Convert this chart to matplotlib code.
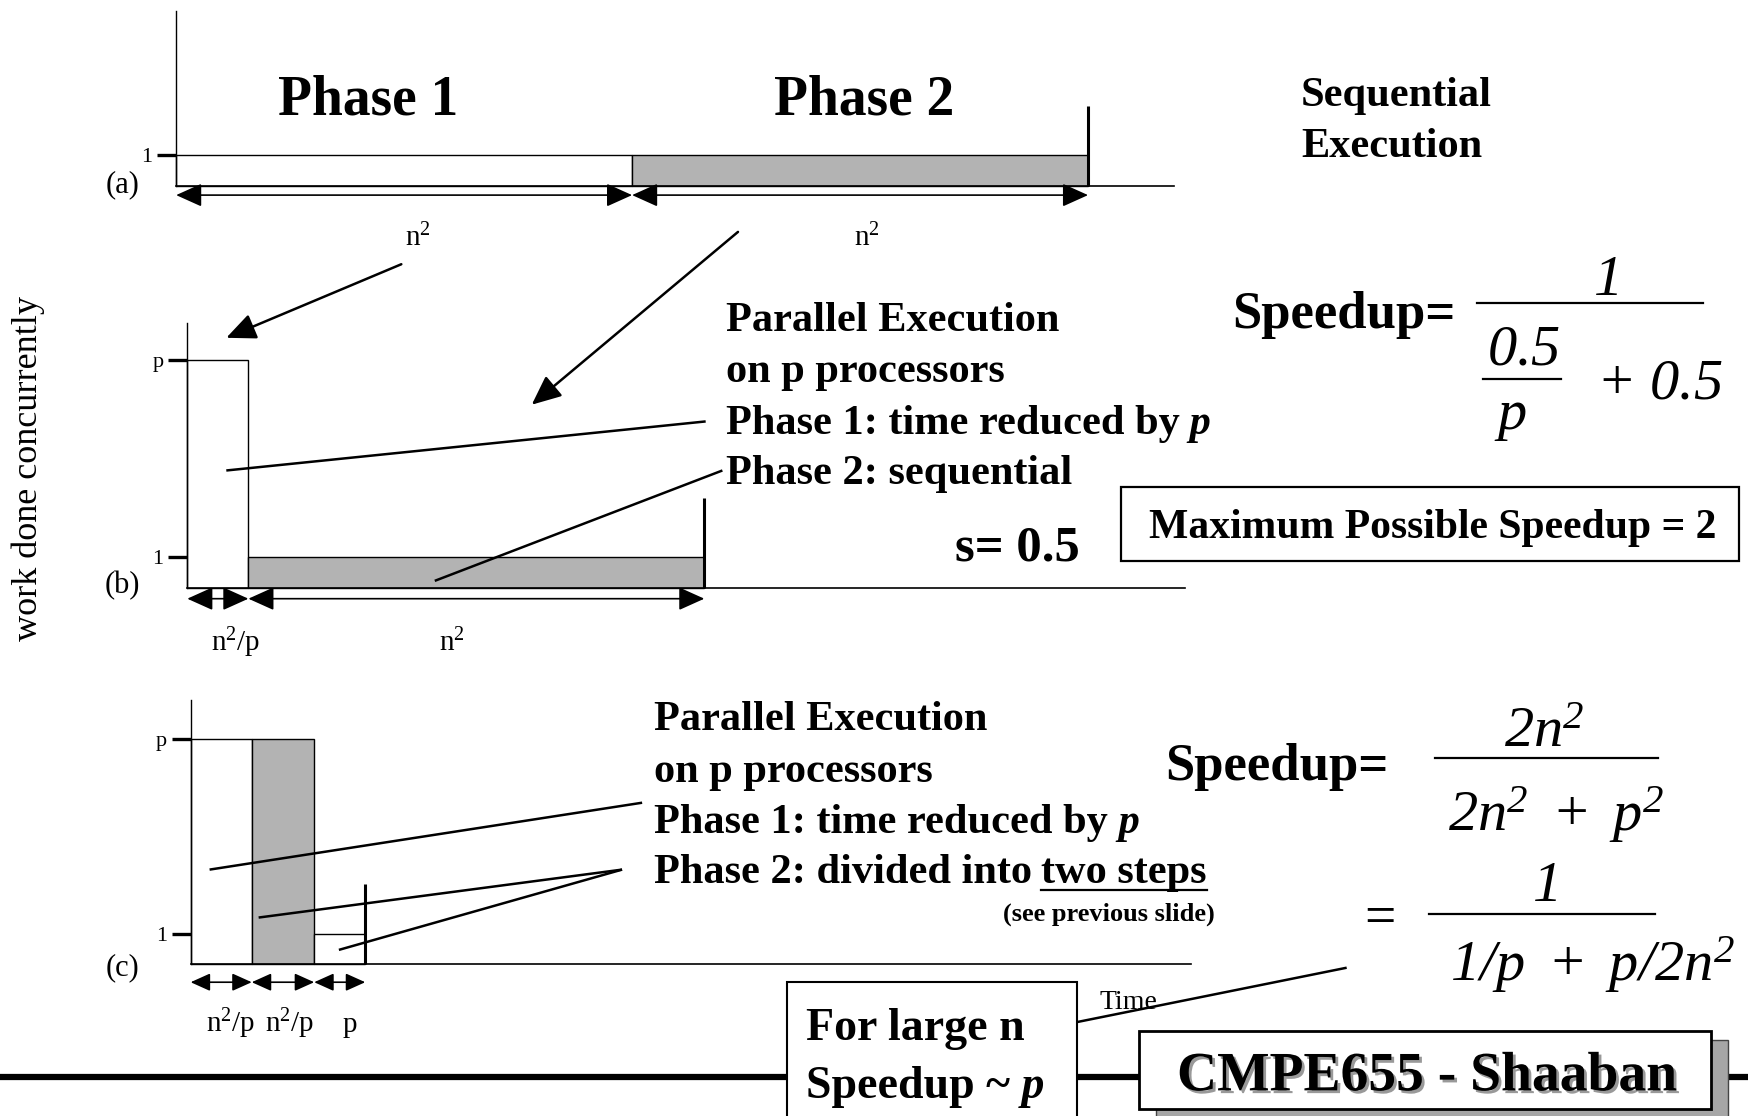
import numpy as np
import matplotlib
matplotlib.use("Agg")
import matplotlib.pyplot as plt
from matplotlib.patches import Rectangle, FancyArrowPatch
import matplotlib.patheffects as pe

# ---------------- data ----------------
P_LEVEL = 7.5                      # drawn height of "p" processors
a_widths = [1.0, 1.0]              # time in units of n^2
a_heights = [1, 1]
a_colors = ["white", "#b3b3b3"]
a_span_labels = [r"n$^2$", r"n$^2$"]

b_widths = [0.134, 1.0]            # n^2/p , n^2
b_heights = [P_LEVEL, 1]
b_colors = ["white", "#b3b3b3"]
b_span_labels = [r"n$^2$/p", r"n$^2$"]

c_widths = [0.134, 0.137, 0.112]   # n^2/p , n^2/p , p
c_heights = [P_LEVEL, P_LEVEL, 1]
c_colors = ["white", "#b3b3b3", "white"]
c_span_labels = [r"n$^2$/p", r"n$^2$/p", "p"]

tick_vals_a = [1]
tick_labels_a = ["1"]
tick_vals_bc = [1, P_LEVEL]
tick_labels_bc = ["1", "p"]

# ---------------- figure ----------------
W, H = 1568, 1001          # canvas coordinate system
PX_PER_N2 = 409.0          # canvas units per n^2 of time
SERIF = ["Liberation Serif", "DejaVu Serif"]
plt.rcParams["font.family"] = SERIF
plt.rcParams["mathtext.fontset"] = "custom"
plt.rcParams["mathtext.rm"] = "Liberation Serif"
plt.rcParams["mathtext.it"] = "Liberation Serif:italic"
plt.rcParams["mathtext.bf"] = "Liberation Serif:bold"
plt.rcParams["mathtext.sf"] = "Liberation Serif:italic"   # fully italic formulas (digits too)

fig = plt.figure(figsize=(17.48, 11.16), dpi=100)
fig.patch.set_facecolor("white")

cv = fig.add_axes([0, 0, 1, 1], zorder=10)
cv.set_xlim(0, W)
cv.set_ylim(H, 0)
cv.axis("off")


def panel(x0, x1, ytop, ybase, unit_px, widths, heights, colors, end_h,
          tvals, tlabels, arrow_y, label_y):
    ax = fig.add_axes([x0 / W, 1 - ybase / H, (x1 - x0) / W, (ybase - ytop) / H], zorder=1)
    ax.set_facecolor("none")
    ax.set_xlim(0, (x1 - x0) / PX_PER_N2)
    ax.set_ylim(0, (ybase - ytop) / unit_px)
    for s in ("top", "right"):
        ax.spines[s].set_visible(False)
    ax.spines["left"].set_linewidth(1.0)
    ax.spines["bottom"].set_linewidth(1.2)
    ax.set_xticks([])
    ax.set_yticks(tvals)
    ax.set_yticklabels(tlabels)
    ax.tick_params(axis="y", direction="out", length=14, width=2.4, labelsize=16, pad=3)
    lefts = np.concatenate([[0], np.cumsum(widths)[:-1]])
    ax.bar(lefts, heights, width=widths, align="edge", color=colors,
           edgecolor="black", linewidth=1.0, clip_on=False)
    end = float(np.sum(widths))
    ax.vlines(end, 0, end_h, colors="black", linewidth=2.2, clip_on=False)
    ya = -(arrow_y - ybase) / unit_px
    yl = -(label_y - ybase) / unit_px
    return ax, lefts, ya, yl


def spans(ax, lefts, widths, ya, yl, labels, ms, label_dx):
    for l, w, lab, dx in zip(lefts, widths, labels, label_dx):
        arr = FancyArrowPatch((l, ya), (l + w, ya),
                              arrowstyle="<|-|>,head_length=0.8,head_width=0.36",
                              mutation_scale=ms, shrinkA=0, shrinkB=0,
                              color="black", linewidth=1.2, clip_on=False)
        ax.add_patch(arr)
        ax.text(l + w / 2 + dx / PX_PER_N2, yl, lab, ha="center", va="baseline",
                fontsize=21, clip_on=False)


# panel (a)
ua = 28.0
axa, la, yaa, yla = panel(158, 1053, 10, 167, ua, a_widths, a_heights, a_colors,
                          (167 - 95) / ua, tick_vals_a, tick_labels_a, 175, 221)
spans(axa, la, a_widths, yaa, yla, a_span_labels, 20, [12, 6])

# panel (b)
ub = 27.2
axb, lb, yab, ylb = panel(168, 1063, 290, 527, ub, b_widths, b_heights, b_colors,
                          (527 - 447) / ub, tick_vals_bc, tick_labels_bc, 537, 584)
spans(axb, lb, b_widths, yab, ylb, b_span_labels, 20, [16, -22])

# panel (c)
uc = 27.0
axc, lc, yac, ylc = panel(171, 1068, 628, 865, uc, c_widths, c_heights, c_colors,
                          (865 - 793) / uc, tick_vals_bc, tick_labels_bc, 881, 926)
spans(axc, lc, c_widths, yac, ylc, c_span_labels, 15, [8, 6, 9])


# ---------------- texts ----------------
def T(x, y, s, size, weight="normal", style="normal", ha="left", va="baseline", **kw):
    return cv.text(x, y, s, fontsize=size, fontweight=weight, fontstyle=style,
                   ha=ha, va=va, family=SERIF, **kw)


renderer = fig.canvas.get_renderer()


def right_edge(t):
    bb = t.get_window_extent(renderer)
    return cv.transData.inverted().transform((bb.x1, bb.y0))[0]


def left_edge(t):
    bb = t.get_window_extent(renderer)
    return cv.transData.inverted().transform((bb.x0, bb.y0))[0]


BODY = 30.5
FML = 42

T(330, 103, "Phase 1", 40, "bold", ha="center")
T(775, 103, "Phase 2", 40, "bold", ha="center")
T(1167, 95, "Sequential", BODY, "bold")
T(1167, 141, "Execution", BODY, "bold")

T(110, 172, "(a)", 22, ha="center")
T(110, 532, "(b)", 22, ha="center")
T(110, 875, "(c)", 22, ha="center")

T(25, 420, "work done concurrently", 26, ha="center", va="center", rotation=90)

# block (b)
T(651, 297, "Parallel Execution", BODY, "bold")
T(651, 343, "on p processors", BODY, "bold")
t = T(651, 389, "Phase 1: time reduced by", BODY, "bold")
T(right_edge(t), 389, " p", BODY, "bold", "italic")
T(651, 434, "Phase 2: sequential", BODY, "bold")
T(857, 503, "s= 0.5", 36.5, "bold")

cv.add_patch(Rectangle((1006, 437), 554, 66, facecolor="white", edgecolor="black", linewidth=1.6))
T(1285, 483, "Maximum Possible Speedup = 2", 30, "bold", ha="center")

T(1105, 294, "Speedup=", 38, "bold")
T(1440, 265, r"$\mathsf{1}$", FML, ha="center")
cv.plot([1325, 1528], [272, 272], color="black", lw=1.6)
T(1367, 327, r"$\mathsf{0.5}$", FML, ha="center")
cv.plot([1330, 1400], [340, 340], color="black", lw=1.6)
T(1355, 385, r"$\mathsf{p}$", FML, ha="center")
T(1432, 357, r"$\mathsf{+\ 0.5}$", FML)

# block (c)
T(587, 655, "Parallel Execution", BODY, "bold")
T(587, 701, "on p processors", BODY, "bold")
t = T(587, 747, "Phase 1: time reduced by", BODY, "bold")
T(right_edge(t), 747, " p", BODY, "bold", "italic")
t = T(587, 792, "Phase 2: divided into", BODY, "bold")
t2 = T(right_edge(t) + 8, 792, "two steps", BODY, "bold")
x0u, x1u = left_edge(t2), right_edge(t2)
cv.plot([x0u, x1u], [798, 798], color="black", lw=1.6)
T(1090, 826, "(see previous slide)", 19, "bold", ha="right")

T(1045, 700, "Speedup=", 38, "bold")
T(1385, 670, r"$\mathsf{2n}^{\mathsf{2}}$", FML, ha="center")
cv.plot([1287, 1487], [680, 680], color="black", lw=1.6)
T(1396, 745, r"$\mathsf{2n}^{\mathsf{2}}\mathsf{\ +\ p}^{\mathsf{2}}$", FML, ha="center")
T(1238, 838, "=", 40, ha="center")
T(1385, 808, r"$\mathsf{1}$", FML, ha="center")
cv.plot([1282, 1485], [820, 820], color="black", lw=1.6)
T(1428, 880, r"$\mathsf{1/p\ +\ p/2n}^{\mathsf{2}}$", FML, ha="center")

T(986, 905, "Time", 20)

# ---------------- leader lines / arrows ----------------
LW = 1.8
for (xs, ys) in [((203, 633), (422, 378)),
                 ((390, 648), (521, 422)),
                 ((188, 576), (780, 720)),
                 ((232, 558), (823, 780)),
                 ((304, 558), (852, 780)),
                 ((950, 1208), (920, 868))]:
    cv.plot(xs, ys, color="black", lw=LW, solid_capstyle="butt")

for (p0, p1) in [((360, 237), (203, 303)), ((662, 208), (477, 363))]:
    cv.add_patch(FancyArrowPatch(p0, p1, arrowstyle="-|>,head_length=0.9,head_width=0.4",
                                 mutation_scale=20, shrinkA=0, shrinkB=0,
                                 color="black", linewidth=LW))

# ---------------- footer ----------------
cv.plot([0, W], [966, 966], color="black", lw=4.5, solid_capstyle="butt", zorder=1)
cv.add_patch(Rectangle((706, 881), 260, 140, facecolor="white", edgecolor="black",
                       linewidth=1.5, zorder=2))
T(723, 933, "For large n", 33, "bold", zorder=3)
t = T(723, 985, "Speedup ~", 33, "bold", zorder=3)
T(right_edge(t), 985, " p", 33, "bold", "italic", zorder=3)

cv.add_patch(Rectangle((1037, 933), 513, 70, facecolor="#a6a6a6", edgecolor="#444444",
                       linewidth=1.0, zorder=2))
cv.add_patch(Rectangle((1022, 925), 513, 70, facecolor="white", edgecolor="black",
                       linewidth=2.0, zorder=3))
T(1280, 978, "CMPE655 - Shaaban", 40, "bold", ha="center", zorder=4,
  path_effects=[pe.SimplePatchShadow(offset=(2, -2), shadow_rgbFace="#999999", alpha=1.0),
                pe.Normal()])

fig.savefig("out.png", dpi=100, facecolor="white")
